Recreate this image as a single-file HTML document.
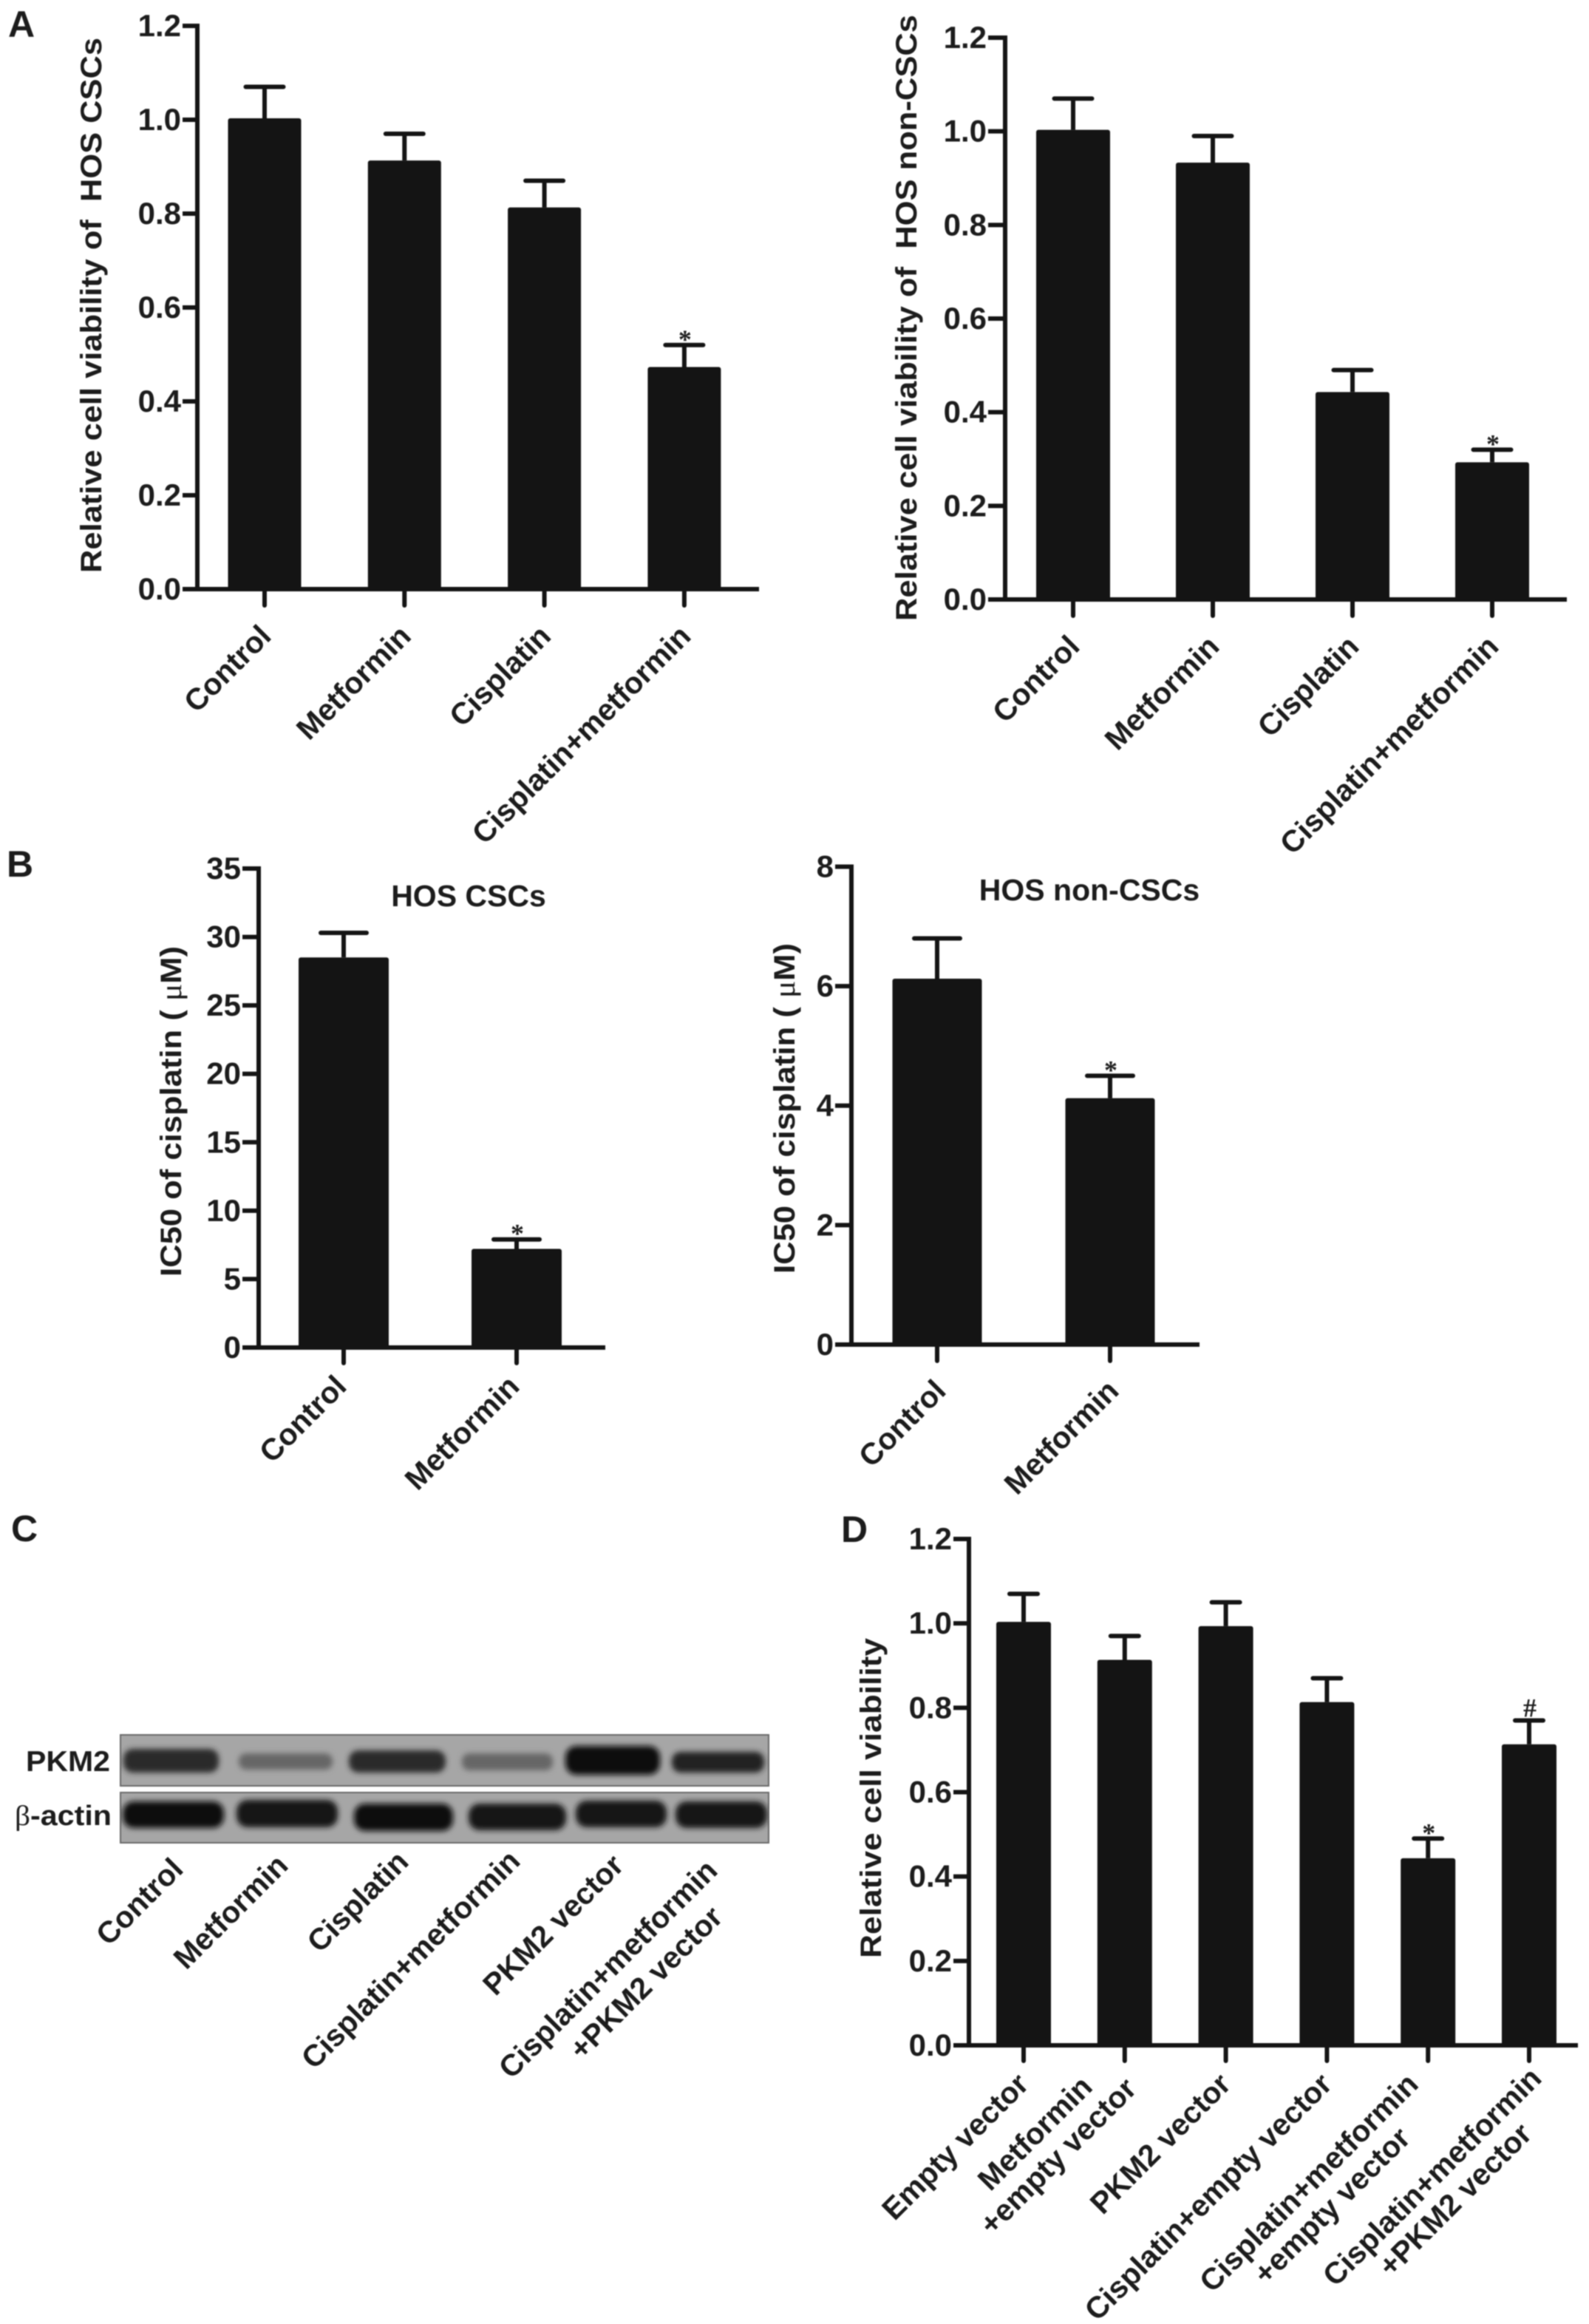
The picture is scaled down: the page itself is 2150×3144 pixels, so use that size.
<!DOCTYPE html>
<html lang="en">
<head>
<meta charset="utf-8">
<title>Metformin and cisplatin cell viability figure</title>
<style>
  html, body { margin: 0; padding: 0; background: #ffffff; }
  svg { display: block; filter: blur(0.7px); }
  text { font-family: "Liberation Sans", "DejaVu Sans", sans-serif; font-weight: 700; fill: #1c1c1c; white-space: pre; }
  .serif { font-family: "Liberation Serif", "DejaVu Serif", serif; }
</style>
</head>
<body>
<svg id="figure" xmlns="http://www.w3.org/2000/svg" width="2150" height="3144" viewBox="0 0 2150 3144">
  <defs>
    <filter id="bandBlur" x="-15%" y="-60%" width="130%" height="220%"><feGaussianBlur stdDeviation="3.6"/></filter>
    <clipPath id="blotTopClip"><rect x="163" y="2347" width="877" height="69"/></clipPath>
    <clipPath id="blotBottomClip"><rect x="163" y="2425" width="877" height="68"/></clipPath>
  </defs>
  <rect x="0" y="0" width="2150" height="3144" fill="#ffffff"/>

  <text x="11" y="50" font-size="50">A</text>
  <text x="9" y="1186" font-size="50">B</text>
  <text x="15" y="2085" font-size="50">C</text>
  <text x="1138" y="2086" font-size="50">D</text>

  <g>
    <g>
      <rect x="163" y="2347" width="877" height="69" fill="#a6a6a6" stroke="#6a6a6a" stroke-width="2"/>
      <g clip-path="url(#blotTopClip)" filter="url(#bandBlur)">
        <rect x="167" y="2366" width="129" height="32" rx="13" fill="#2a2a2a"/>
        <rect x="323" y="2372" width="127" height="22" rx="10" fill="#666666"/>
        <rect x="472" y="2368" width="131" height="30" rx="13" fill="#2a2a2a"/>
        <rect x="625" y="2372" width="123" height="23" rx="10" fill="#666666"/>
        <rect x="765" y="2362" width="128" height="39" rx="15" fill="#0e0e0e"/>
        <rect x="909" y="2370" width="125" height="28" rx="12" fill="#222222"/>
      </g>
    </g>
    <g>
      <rect x="163" y="2425" width="877" height="68" fill="#a6a6a6" stroke="#6a6a6a" stroke-width="2"/>
      <g clip-path="url(#blotBottomClip)" filter="url(#bandBlur)">
        <rect x="166" y="2437" width="137" height="36" rx="15" fill="#101010"/>
        <rect x="320" y="2435" width="137" height="37" rx="15" fill="#141414"/>
        <rect x="479" y="2440" width="134" height="37" rx="15" fill="#101010"/>
        <rect x="634" y="2440" width="132" height="36" rx="15" fill="#141414"/>
        <rect x="779" y="2436" width="123" height="36" rx="15" fill="#141414"/>
        <rect x="914" y="2437" width="124" height="36" rx="15" fill="#141414"/>
      </g>
    </g>
    <text x="35" y="2396" font-size="39" textLength="114" lengthAdjust="spacingAndGlyphs">PKM2</text>
    <text x="20" y="2469" font-size="38" textLength="131" lengthAdjust="spacingAndGlyphs"><tspan class="serif" font-weight="400">β</tspan>-actin</text>
    <text text-anchor="end" font-size="41" transform="translate(250 2531) rotate(-45)">Control</text>
    <text text-anchor="end" font-size="41" transform="translate(392 2526) rotate(-45)">Metformin</text>
    <text text-anchor="end" font-size="41" transform="translate(555 2521) rotate(-45)">Cisplatin</text>
    <text text-anchor="end" font-size="41" transform="translate(706 2520) rotate(-45)">Cisplatin+metformin</text>
    <text text-anchor="end" font-size="41" transform="translate(846 2526) rotate(-45)">PKM2 vector</text>
    <text text-anchor="end" font-size="41" transform="translate(973 2533) rotate(-45)">Cisplatin+metformin</text>
    <text text-anchor="end" font-size="41" transform="translate(980 2596) rotate(-45)">+PKM2 vector</text>
  </g>
</svg>

<script>
// Panel A (left): relative viability of HOS CSCs
const a1Categories = ['Control', 'Metformin', 'Cisplatin', 'Cisplatin+metformin'];
const a1Values = [1.0, 0.91, 0.81, 0.47];
const a1ErrorTops = [1.07, 0.97, 0.87, 0.52];
const a1Marks = ['', '', '', '*'];
const a1Ticks = ['0.0', '0.2', '0.4', '0.6', '0.8', '1.0', '1.2'];

// Panel A (right): relative viability of HOS non-CSCs
const a2Categories = ['Control', 'Metformin', 'Cisplatin', 'Cisplatin+metformin'];
const a2Values = [1.0, 0.93, 0.44, 0.29];
const a2ErrorTops = [1.07, 0.99, 0.49, 0.32];
const a2Marks = ['', '', '', '*'];
const a2Ticks = ['0.0', '0.2', '0.4', '0.6', '0.8', '1.0', '1.2'];

// Panel B (left): IC50 in HOS CSCs
const b1Categories = ['Control', 'Metformin'];
const b1Values = [28.4, 7.1];
const b1ErrorTops = [30.3, 7.9];
const b1Marks = ['', '*'];
const b1Ticks = ['0', '5', '10', '15', '20', '25', '30', '35'];

// Panel B (right): IC50 in HOS non-CSCs
const b2Categories = ['Control', 'Metformin'];
const b2Values = [6.1, 4.1];
const b2ErrorTops = [6.8, 4.5];
const b2Marks = ['', '*'];
const b2Ticks = ['0', '2', '4', '6', '8'];

// Panel D: relative viability with PKM2 rescue
const dCategories = ['Empty vector', 'Metformin\n+empty vector', 'PKM2 vector', 'Cisplatin+empty vector', 'Cisplatin+metformin\n+empty vector', 'Cisplatin+metformin\n+PKM2 vector'];
const dValues = [1.0, 0.91, 0.99, 0.81, 0.44, 0.71];
const dErrorTops = [1.07, 0.97, 1.05, 0.87, 0.49, 0.77];
const dMarks = ['', '', '', '', '*', '#'];
const dTicks = ['0.0', '0.2', '0.4', '0.6', '0.8', '1.0', '1.2'];

const SVG_NS = 'http://www.w3.org/2000/svg';
const figure = document.getElementById('figure');

function make(parent, tag, attrs, content) {
  const node = document.createElementNS(SVG_NS, tag);
  Object.keys(attrs).forEach(function (key) { node.setAttribute(key, attrs[key]); });
  if (content !== undefined) node.textContent = content;
  parent.appendChild(node);
  return node;
}

function slug(text) {
  return text.toLowerCase().replace(/[^a-z0-9]+/g, '-').replace(/^-|-$/g, '');
}

function drawCategoryLabel(parent, label, endX, endY, fontSize, lineGap, prefix) {
  const group = make(parent, 'g', { transform: 'translate(' + endX + ' ' + endY + ') rotate(-45)' });
  
  
  const lines = label.split('\n');
  const nodes = lines.map(function (line, i) {
    const t = make(group, 'text', { 'font-size': fontSize, 'text-anchor': 'middle', y: i * lineGap }, line);
    
    
    return t;
  });
  const longest = Math.max.apply(null, nodes.map(function (n) { return n.getComputedTextLength(); }));
  nodes.forEach(function (n) { n.setAttribute('x', -longest / 2); });
}

function drawBarChart(name, categories, values, errorTops, marks, ticks, frame) {
  const chart = make(figure, 'g', {});
  
  

  const maxValue = parseFloat(ticks[ticks.length - 1]);
  const yScale = function (v) { return frame.yZero - (v / maxValue) * (frame.yZero - frame.yTop); };
  const xScale = function (i) { return frame.firstCenter + i * frame.step; };
  const ink = '#141414';
  const lineWidth = 6;

  categories.forEach(function (category, i) {
    const cx = xScale(i);
    const top = yScale(values[i]) - 2;
    const errorY = yScale(errorTops[i]);

    const stem = make(chart, 'line', { x1: cx, x2: cx, y1: top, y2: errorY, stroke: ink, 'stroke-width': lineWidth });
    
    

    const cap = make(chart, 'line', { x1: cx - frame.capWidth / 2, x2: cx + frame.capWidth / 2, y1: errorY, y2: errorY, stroke: ink, 'stroke-width': lineWidth, 'stroke-linecap': 'round' });
    
    

    const bar = make(chart, 'rect', { x: cx - frame.barWidth / 2, y: top, width: frame.barWidth, height: frame.yZero - top, rx: 3, fill: ink });
    
    

    if (marks[i]) {
      const isHash = marks[i] === '#';
      const mark = make(chart, 'text', { x: cx + 1, y: isHash ? errorY - 5 : errorY + 4, 'text-anchor': 'middle', 'font-size': 36, 'font-weight': 400, fill: '#3c3c3c', class: 'serif' }, marks[i]);
      
      
    }

    const tick = make(chart, 'line', { x1: cx, x2: cx, y1: frame.yZero, y2: frame.tickBottom, stroke: ink, 'stroke-width': lineWidth, 'stroke-linecap': 'round' });
    
    

    const shift = (frame.labelShift && frame.labelShift[i]) || { x: 0, y: 0 };
    drawCategoryLabel(chart, category, cx + frame.labelDx + shift.x, frame.tickBottom + frame.labelDy + shift.y, frame.labelSize, frame.labelGap, name);
  });

  ticks.forEach(function (label) {
    const y = yScale(parseFloat(label));
    const tick = make(chart, 'line', { x1: frame.tickLeft, x2: frame.xAxis, y1: y, y2: y, stroke: ink, 'stroke-width': lineWidth });
    
    

    const text = make(chart, 'text', { x: frame.tickLeft - 2, y: y + 14, 'text-anchor': 'end', 'font-size': frame.tickSize }, label);
    
    
  });

  const yAxis = make(chart, 'line', { x1: frame.xAxis, x2: frame.xAxis, y1: frame.yTop - 3, y2: frame.yZero + 3, stroke: ink, 'stroke-width': lineWidth });
  
  

  const xAxis = make(chart, 'line', { x1: frame.tickLeft, x2: frame.xEnd, y1: frame.yZero, y2: frame.yZero, stroke: ink, 'stroke-width': lineWidth });
  
  

  const title = make(chart, 'text', {
    transform: 'translate(' + frame.titleX + ' ' + frame.titleStart + ') rotate(-90)',
    'font-size': frame.titleSize,
    textLength: frame.titleStart - frame.titleEnd,
    lengthAdjust: 'spacingAndGlyphs'
  });
  
  
  if (frame.titleText.indexOf('μ') >= 0) {
    const parts = frame.titleText.split('μ');
    make(title, 'tspan', {}, parts[0]);
    make(title, 'tspan', { class: 'serif', 'font-weight': 400 }, 'μ');
    make(title, 'tspan', {}, parts[1]);
  } else {
    title.textContent = frame.titleText;
  }

  if (frame.heading) {
    const heading = make(chart, 'text', { x: frame.headingX, y: frame.headingY, 'text-anchor': 'middle', 'font-size': 41 }, frame.heading);
    
    
  }
}

drawBarChart('hos-cscs-viability-chart', a1Categories, a1Values, a1ErrorTops, a1Marks, a1Ticks, {
  xAxis: 267, xEnd: 1027, yTop: 35, yZero: 797, tickLeft: 247, tickBottom: 819,
  firstCenter: 358, step: 189.3, barWidth: 99, capWidth: 51,
  labelDx: 11, labelDy: 44, labelSize: 41, labelGap: 42, tickSize: 42,
  titleText: 'Relative cell viability of  HOS CSCs', titleX: 137, titleStart: 775, titleEnd: 51, titleSize: 40
});

drawBarChart('hos-non-cscs-viability-chart', a2Categories, a2Values, a2ErrorTops, a2Marks, a2Ticks, {
  xAxis: 1360, xEnd: 2120, yTop: 51, yZero: 811, tickLeft: 1337, tickBottom: 833,
  firstCenter: 1452, step: 189, barWidth: 100, capWidth: 51,
  labelDx: 11, labelDy: 44, labelSize: 41, labelGap: 42, tickSize: 42,
  titleText: 'Relative cell viability of  HOS non-CSCs', titleX: 1240, titleStart: 840, titleEnd: 20, titleSize: 40
});

drawBarChart('hos-cscs-ic50-chart', b1Categories, b1Values, b1ErrorTops, b1Marks, b1Ticks, {
  xAxis: 350, xEnd: 819, yTop: 1175, yZero: 1823, tickLeft: 328, tickBottom: 1844,
  firstCenter: 465, step: 234, barWidth: 122, capWidth: 62,
  labelDx: 6, labelDy: 34, labelSize: 41, labelGap: 42, tickSize: 42,
  titleText: 'IC50 of cisplatin ( μM)', titleX: 245, titleStart: 1727, titleEnd: 1280, titleSize: 40,
  heading: 'HOS CSCs', headingX: 634, headingY: 1226
});

drawBarChart('hos-non-cscs-ic50-chart', b2Categories, b2Values, b2ErrorTops, b2Marks, b2Ticks, {
  xAxis: 1152, xEnd: 1623, yTop: 1172.5, yZero: 1819, tickLeft: 1130, tickBottom: 1841,
  firstCenter: 1268, step: 234, barWidth: 121, capWidth: 62,
  labelDx: 14, labelDy: 43, labelSize: 41, labelGap: 42, tickSize: 42,
  titleText: 'IC50 of cisplatin ( μM)', titleX: 1075, titleStart: 1723, titleEnd: 1276, titleSize: 40,
  heading: 'HOS non-CSCs', headingX: 1474, headingY: 1218
});

drawBarChart('pkm2-rescue-viability-chart', dCategories, dValues, dErrorTops, dMarks, dTicks, {
  xAxis: 1311, xEnd: 2135, yTop: 2082, yZero: 2767, tickLeft: 1290, tickBottom: 2788,
  firstCenter: 1385, step: 136.8, barWidth: 74, capWidth: 38,
  labelDx: 9, labelDy: 34, labelSize: 41, labelGap: 44, tickSize: 42,
  labelShift: { 1: { x: -22, y: -25 }, 4: { x: -20, y: 0 }, 5: { x: 10, y: -8 } },
  titleText: 'Relative cell viability', titleX: 1192, titleStart: 2649, titleEnd: 2216, titleSize: 40
});
</script>
</body>
</html>
